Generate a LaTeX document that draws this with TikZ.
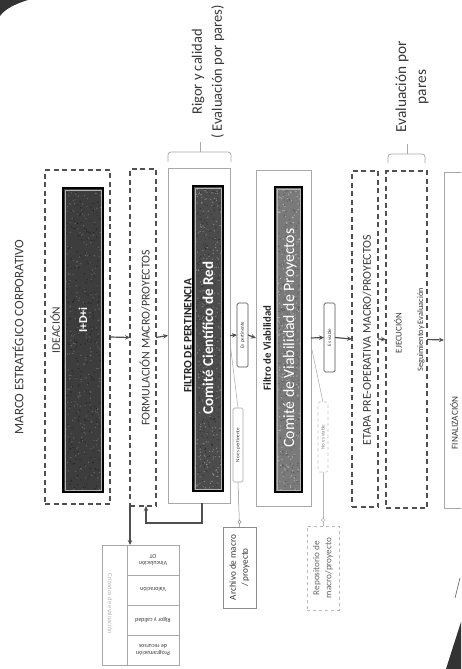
\documentclass[tikz,border=0pt]{standalone}
\usepackage{fontspec}
\setmainfont{Carlito}
\usetikzlibrary{arrows.meta,calc}
\definecolor{txt}{HTML}{383838}
\definecolor{dash}{HTML}{505050}
\definecolor{lgray}{HTML}{A8A8A8}
\begin{document}
\begin{tikzpicture}[x=1pt,y=-1pt,
  box/.style={rectangle,inner sep=0,outer sep=0},
  dbox/.style={box,draw=dash,line width=1.1pt,dash pattern=on 5pt off 3.5pt},
  sbox/.style={box,draw=lgray,line width=0.8pt,fill=white},
  darkbox/.style={box,draw=black,line width=1.3pt},
  pill/.style={box,draw=dash,line width=0.7pt,rounded corners=1.5pt,fill=white},
  fpill/.style={box,draw=lgray!70,line width=0.6pt,dashed,rounded corners=1.5pt,fill=white},
  vt/.style={rotate=90,inner sep=0,text=txt},
  arr/.style={draw=dash,line width=1.2pt,-{Stealth[length=5pt,width=4.5pt]}},
  thinl/.style={draw=lgray,line width=0.5pt},
  brk/.style={draw=lgray,line width=0.8pt,rounded corners=3pt}]
\useasboundingbox (0,0) rectangle (461,669);
\clip (0,0) rectangle (461,669);

% scan artefacts
\fill[black!80] (0,0) -- (28,0) .. controls (15,4) and (5,9) .. (0,16) -- cycle;
\fill[black!80] (461,622) -- (461,669) -- (446,669) .. controls (452,650) .. (461,622) -- cycle;
\draw[black!60,line width=0.7pt] (455,598) -- (460,578);

% title
\node[vt,font=\fontsize{13}{15}\selectfont] (marco) at (18,337) {MARCO ESTRATÉGICO CORPORATIVO};

% boxes
\node[dbox,minimum width=65,minimum height=334] (ide) at (77.5,337) {};
\node[darkbox,fill=black!76,minimum width=40,minimum height=304] (idi) at (83,340) {};
\node[dbox,minimum width=26,minimum height=337] (form) at (143,337.5) {};
\node[sbox,minimum width=62,minimum height=335] (fp) at (199,335.5) {};
\node[darkbox,fill=black!70,minimum width=30,minimum height=305] (ccr) at (208,338.5) {};
\node[pill,minimum width=11,minimum height=64] (espert) at (242.5,335) {};
\node[sbox,minimum width=55,minimum height=336] (fv) at (283.5,338) {};
\node[darkbox,fill=black!52,minimum width=27,minimum height=305] (cvp) at (288.5,339.5) {};
\node[pill,minimum width=11,minimum height=69] (esvia) at (329.5,337.5) {};
\node[dbox,minimum width=26,minimum height=336] (etapa) at (365,339) {};
\node[dbox,minimum width=41,minimum height=337] (ejec) at (406.5,339.5) {};
\node[sbox,minimum width=36,minimum height=336] (fin) at (462,340) {};
\node[pill,draw=lgray,minimum width=10,minimum height=74] (noper) at (238,445) {};
\node[sbox,draw=black!45,minimum width=33,minimum height=81] (archivo) at (239.5,567.5) {};
\node[fpill,minimum width=10,minimum height=70] (noviab) at (323,437) {};
\node[box,draw=lgray!80,dashed,line width=0.6pt,minimum width=32,minimum height=84] (repo) at (323,568) {};
\node[box,draw=lgray,line width=0.6pt,minimum width=77,minimum height=120] (tabla) at (140.5,605) {};

% texture of the dark boxes
\pgfmathsetseed{7}
\foreach \n/\w/\h/\c/\d in {idi/40/304/black!50/black!95, ccr/30/305/black!35/black!90, cvp/27/305/black!20/black!75} {
  \foreach \i in {1,...,260} {
    \fill[\c,fill opacity=0.6] ($(\n.north west)+({2+rnd*(\w-4)},{2+rnd*(\h-4)})$) circle (0.7);
    \fill[\d,fill opacity=0.5] ($(\n.north west)+({2+rnd*(\w-4)},{2+rnd*(\h-4)})$) circle (0.7);
  }
}
% inner light lines of dark boxes
\foreach \n in {idi,ccr,cvp}
  \draw[white!70!black,line width=0.5pt] ($(\n.north west)+(2.2,2.2)$) rectangle ($(\n.south east)+(-2.2,-2.2)$);

% texts
\node[vt,font=\fontsize{11.5}{13}\selectfont] (tide) at (55,330) {IDEACIÓN};
\node[vt,text=white,font=\bfseries\fontsize{12}{14}\selectfont] (tidi) at (83,320) {I+D+i};
\node[vt,font=\fontsize{11.9}{14}\selectfont] (tform) at (145,338) {FORMULACIÓN MACRO/PROYECTOS};
\node[vt,text=black!85,font=\bfseries\fontsize{11.5}{14}\selectfont] (tfp) at (188,336) {FILTRO DE PERTINENCIA};
\node[vt,text=white,font=\bfseries\fontsize{15}{17}\selectfont] (tccr) at (208,338) {Comité Científico de Red};
\node[vt,font=\fontsize{5}{6}\selectfont] (tespert) at (espert) {Es pertinente};
\node[vt,font=\fontsize{5}{6}\selectfont] (tnoper) at (noper) {No es pertinente};
\node[vt,text=black!85,font=\bfseries\fontsize{10.8}{13}\selectfont] (tfv) at (267,348) {Filtro de Viabilidad};
\node[vt,text=white,font=\fontsize{15.8}{18}\selectfont] (tcvp) at (290,338) {Comité de Viabilidad de Proyectos};
\node[vt,font=\fontsize{5}{6}\selectfont] (tesvia) at (esvia) {Es viable};
\node[vt,text=black!50,font=\fontsize{5}{6}\selectfont] (tnoviab) at (noviab) {No es viable};
\node[vt,font=\fontsize{11.9}{14}\selectfont] (tetapa) at (367,340) {ETAPA PRE-OPERATIVA MACRO/PROYECTOS};
\node[vt,font=\fontsize{8.8}{10}\selectfont] (tejec) at (398,333) {EJECUCIÓN};
\node[vt,font=\fontsize{8.3}{10}\selectfont] (tseg) at (421,330) {Seguimientoy Evaluación};
\node[vt,font=\fontsize{9.2}{11}\selectfont] (tfin) at (454,423) {FINALIZACIÓN};
\node[vt,align=center,font=\fontsize{9.2}{12}\selectfont] (tarch) at (archivo) {Archivo de macro\\/ proyecto};
\node[vt,align=center,text=black!60,font=\fontsize{9.2}{12}\selectfont] (trepo) at (repo) {Repositorio de\\macro/proyecto};
\node[vt,align=center,font=\fontsize{14.5}{20}\selectfont] (trigor) at (208,72) {Rigor y calidad\\( Evaluación por pares)};
\node[vt,align=center,font=\fontsize{15.3}{20}\selectfont] (teval) at (412,87) {Evaluación por\\pares};

% table
\draw[lgray,line width=0.6pt] ($(tabla.north west)+(25,0)$) -- ($(tabla.south west)+(25,0)$);
\foreach \d in {30,60,90}
  \draw[lgray,line width=0.6pt] ($(tabla.north west)+(25,\d)$) -- ($(tabla.north east)+(0,\d)$);
\node[rotate=180,align=center,inner sep=0,text=txt,font=\fontsize{6}{7}\selectfont] (c1) at (153,560) {Vinculación\\OT};
\node[rotate=180,align=center,inner sep=0,text=txt,font=\fontsize{6}{7}\selectfont] (c2) at (153,590) {Valoración};
\node[rotate=180,align=center,inner sep=0,text=txt,font=\fontsize{6}{7}\selectfont] (c3) at (153,620) {Rigor y calidad};
\node[rotate=180,align=center,inner sep=0,text=txt,font=\fontsize{6}{7}\selectfont] (c4) at (153,650) {Programación\\de recursos};
\node[rotate=-90,inner sep=0,text=black!30,font=\fontsize{6.5}{8}\selectfont] (c0) at (110,604) {Criterios de evaluación};

% braces
\draw[brk] (168,162) -- (168,152) -- (231,152) -- (231,162);
\draw[brk] (200,152) -- (200,142);
\draw[brk] (388,163) -- (388,154) -- (425,154) -- (425,163);
\draw[brk] (407,154) -- (407,144);

% main flow arrows
\draw[arr] (ide.east) -- (form.west);
\draw[arr] (form.east) -- (fp.west);
\draw[arr] (fp.east) -- (espert.west);
\draw[arr] (espert.east) -- (fv.west);
\draw[arr] (fv.east) -- (esvia.west);
\draw[arr] (esvia.east) -- (etapa.west);
\draw[arr] (etapa.east) -- (ejec.west);
\draw[arr] (ejec.east) -- (fin.west);

% feedback and table arrow
\draw[arr] ([xshift=3pt]fp.south) -- ++(0,20) -| ([xshift=3pt]form.south);
\draw[arr] (form.south west) -- (tabla.north -| form.south west);

% rejection lines
\draw[thinl] ($(fp.east)+(0,7)$) -- (noper.north);
\draw[thinl] ($(fv.east)+(1,12)$) -- (noviab.north);
\draw[thinl,draw=black!45] (noper.south) -- (archivo.north);
\draw[thinl,draw=lgray!80] (noviab.south) -- (repo.north);
\node[circle,draw=black!45,fill=white,line width=0.5pt,minimum size=3.5pt,inner sep=0] (o1) at ($(archivo.north)+(0,-5)$) {};
\node[circle,draw=lgray!80,fill=white,line width=0.5pt,minimum size=3.5pt,inner sep=0] (o2) at ($(repo.north)+(0,-6)$) {};
\end{tikzpicture}
\end{document}
